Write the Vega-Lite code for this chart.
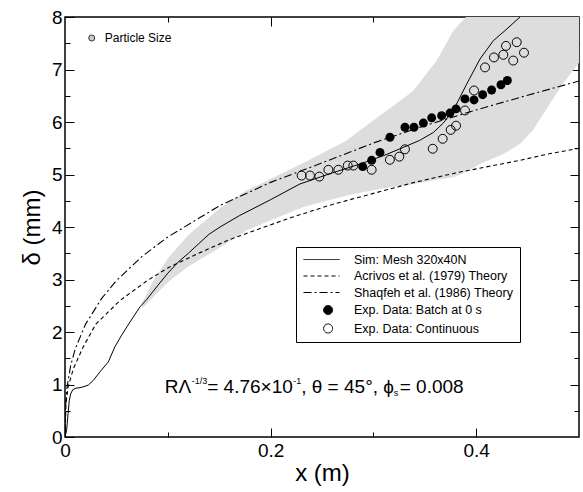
{
 "$schema": "https://vega.github.io/schema/vega-lite/v6.json",
 "width": 514, "height": 420,
 "autosize": {"type": "none"},
 "padding": {"left": 65, "top": 17, "right": 4, "bottom": 55},
 "config": {
  "font": "Liberation Sans",
  "view": {"stroke": "black", "strokeWidth": 1.5},
  "axis": {"domain": false, "grid": false, "tickColor": "black", "tickWidth": 1, "labelColor": "black", "labelFont": "Liberation Sans", "titleFont": "Liberation Sans", "titleColor": "black", "titleFontWeight": "normal", "labelFontSize": 19, "titleFontSize": 24, "labelFlush": false}
 },
 "datasets": {
  "lines": [
   {"series": "Sim: Mesh 320x40N", "x": 0, "y": 0},
   {"series": "Sim: Mesh 320x40N", "x": 0.0016, "y": 0.13},
   {"series": "Sim: Mesh 320x40N", "x": 0.003, "y": 0.45},
   {"series": "Sim: Mesh 320x40N", "x": 0.0042, "y": 0.7},
   {"series": "Sim: Mesh 320x40N", "x": 0.0055, "y": 0.82},
   {"series": "Sim: Mesh 320x40N", "x": 0.0075, "y": 0.9},
   {"series": "Sim: Mesh 320x40N", "x": 0.0105, "y": 0.93},
   {"series": "Sim: Mesh 320x40N", "x": 0.0146, "y": 0.94},
   {"series": "Sim: Mesh 320x40N", "x": 0.0185, "y": 0.96},
   {"series": "Sim: Mesh 320x40N", "x": 0.0227, "y": 0.99},
   {"series": "Sim: Mesh 320x40N", "x": 0.0276, "y": 1.08},
   {"series": "Sim: Mesh 320x40N", "x": 0.034, "y": 1.24},
   {"series": "Sim: Mesh 320x40N", "x": 0.0421, "y": 1.43},
   {"series": "Sim: Mesh 320x40N", "x": 0.0486, "y": 1.72},
   {"series": "Sim: Mesh 320x40N", "x": 0.0551, "y": 1.94},
   {"series": "Sim: Mesh 320x40N", "x": 0.0632, "y": 2.19},
   {"series": "Sim: Mesh 320x40N", "x": 0.073, "y": 2.48},
   {"series": "Sim: Mesh 320x40N", "x": 0.0795, "y": 2.62},
   {"series": "Sim: Mesh 320x40N", "x": 0.09, "y": 2.88},
   {"series": "Sim: Mesh 320x40N", "x": 0.1, "y": 3.12},
   {"series": "Sim: Mesh 320x40N", "x": 0.11, "y": 3.33},
   {"series": "Sim: Mesh 320x40N", "x": 0.12, "y": 3.5},
   {"series": "Sim: Mesh 320x40N", "x": 0.13, "y": 3.68},
   {"series": "Sim: Mesh 320x40N", "x": 0.14, "y": 3.86},
   {"series": "Sim: Mesh 320x40N", "x": 0.1508, "y": 4.0},
   {"series": "Sim: Mesh 320x40N", "x": 0.17, "y": 4.22},
   {"series": "Sim: Mesh 320x40N", "x": 0.2, "y": 4.52},
   {"series": "Sim: Mesh 320x40N", "x": 0.2286, "y": 4.82},
   {"series": "Sim: Mesh 320x40N", "x": 0.26, "y": 5.03},
   {"series": "Sim: Mesh 320x40N", "x": 0.287, "y": 5.2},
   {"series": "Sim: Mesh 320x40N", "x": 0.31, "y": 5.36},
   {"series": "Sim: Mesh 320x40N", "x": 0.3259, "y": 5.49},
   {"series": "Sim: Mesh 320x40N", "x": 0.345, "y": 5.65},
   {"series": "Sim: Mesh 320x40N", "x": 0.3583, "y": 5.8},
   {"series": "Sim: Mesh 320x40N", "x": 0.368, "y": 5.98},
   {"series": "Sim: Mesh 320x40N", "x": 0.3777, "y": 6.22},
   {"series": "Sim: Mesh 320x40N", "x": 0.3907, "y": 6.72},
   {"series": "Sim: Mesh 320x40N", "x": 0.4037, "y": 7.2},
   {"series": "Sim: Mesh 320x40N", "x": 0.4167, "y": 7.55},
   {"series": "Sim: Mesh 320x40N", "x": 0.428, "y": 7.74},
   {"series": "Sim: Mesh 320x40N", "x": 0.4426, "y": 8.0},
   {"series": "Acrivos et al. (1979) Theory", "x": 0, "y": 0},
   {"series": "Acrivos et al. (1979) Theory", "x": 0.001, "y": 0.65},
   {"series": "Acrivos et al. (1979) Theory", "x": 0.003, "y": 0.95},
   {"series": "Acrivos et al. (1979) Theory", "x": 0.0081, "y": 1.3},
   {"series": "Acrivos et al. (1979) Theory", "x": 0.0178, "y": 1.72},
   {"series": "Acrivos et al. (1979) Theory", "x": 0.03, "y": 2.15},
   {"series": "Acrivos et al. (1979) Theory", "x": 0.0535, "y": 2.6},
   {"series": "Acrivos et al. (1979) Theory", "x": 0.08, "y": 2.98},
   {"series": "Acrivos et al. (1979) Theory", "x": 0.1, "y": 3.22},
   {"series": "Acrivos et al. (1979) Theory", "x": 0.13, "y": 3.5},
   {"series": "Acrivos et al. (1979) Theory", "x": 0.16, "y": 3.76},
   {"series": "Acrivos et al. (1979) Theory", "x": 0.1897, "y": 3.97},
   {"series": "Acrivos et al. (1979) Theory", "x": 0.22, "y": 4.18},
   {"series": "Acrivos et al. (1979) Theory", "x": 0.26, "y": 4.43},
   {"series": "Acrivos et al. (1979) Theory", "x": 0.3, "y": 4.64},
   {"series": "Acrivos et al. (1979) Theory", "x": 0.34, "y": 4.85},
   {"series": "Acrivos et al. (1979) Theory", "x": 0.38, "y": 5.03},
   {"series": "Acrivos et al. (1979) Theory", "x": 0.4426, "y": 5.27},
   {"series": "Acrivos et al. (1979) Theory", "x": 0.47, "y": 5.39},
   {"series": "Acrivos et al. (1979) Theory", "x": 0.5, "y": 5.5},
   {"series": "Shaqfeh et al. (1986) Theory", "x": 0, "y": 0},
   {"series": "Shaqfeh et al. (1986) Theory", "x": 0.0005, "y": 0.58},
   {"series": "Shaqfeh et al. (1986) Theory", "x": 0.002, "y": 0.95},
   {"series": "Shaqfeh et al. (1986) Theory", "x": 0.0055, "y": 1.36},
   {"series": "Shaqfeh et al. (1986) Theory", "x": 0.01, "y": 1.68},
   {"series": "Shaqfeh et al. (1986) Theory", "x": 0.02, "y": 2.15},
   {"series": "Shaqfeh et al. (1986) Theory", "x": 0.0357, "y": 2.64},
   {"series": "Shaqfeh et al. (1986) Theory", "x": 0.05, "y": 2.98},
   {"series": "Shaqfeh et al. (1986) Theory", "x": 0.075, "y": 3.44},
   {"series": "Shaqfeh et al. (1986) Theory", "x": 0.1, "y": 3.81},
   {"series": "Shaqfeh et al. (1986) Theory", "x": 0.1508, "y": 4.41},
   {"series": "Shaqfeh et al. (1986) Theory", "x": 0.2, "y": 4.85},
   {"series": "Shaqfeh et al. (1986) Theory", "x": 0.25, "y": 5.22},
   {"series": "Shaqfeh et al. (1986) Theory", "x": 0.3, "y": 5.6},
   {"series": "Shaqfeh et al. (1986) Theory", "x": 0.35, "y": 5.93},
   {"series": "Shaqfeh et al. (1986) Theory", "x": 0.4, "y": 6.23},
   {"series": "Shaqfeh et al. (1986) Theory", "x": 0.45, "y": 6.51},
   {"series": "Shaqfeh et al. (1986) Theory", "x": 0.5, "y": 6.78}
  ],
  "band": [
   {"x": 0.075, "lo": 2.45, "hi": 2.55},
   {"x": 0.085, "lo": 2.65, "hi": 2.95},
   {"x": 0.1, "lo": 2.95, "hi": 3.4},
   {"x": 0.12, "lo": 3.25, "hi": 3.85},
   {"x": 0.15, "lo": 3.6, "hi": 4.35},
   {"x": 0.1767, "lo": 3.94, "hi": 4.7},
   {"x": 0.19, "lo": 4.05, "hi": 4.82},
   {"x": 0.2318, "lo": 4.38, "hi": 5.22},
   {"x": 0.274, "lo": 4.6, "hi": 5.65},
   {"x": 0.2805, "lo": 4.63, "hi": 5.75},
   {"x": 0.313, "lo": 4.75, "hi": 6.22},
   {"x": 0.329, "lo": 4.79, "hi": 6.45},
   {"x": 0.339, "lo": 4.82, "hi": 6.6},
   {"x": 0.3616, "lo": 4.9, "hi": 7.17},
   {"x": 0.3777, "lo": 4.95, "hi": 7.74},
   {"x": 0.39, "lo": 5.05, "hi": 8.0},
   {"x": 0.4037, "lo": 5.2, "hi": 8.0},
   {"x": 0.4264, "lo": 5.39, "hi": 8.0},
   {"x": 0.4426, "lo": 5.58, "hi": 8.0},
   {"x": 0.455, "lo": 5.84, "hi": 8.0},
   {"x": 0.47, "lo": 6.3, "hi": 8.0},
   {"x": 0.485, "lo": 6.75, "hi": 8.0},
   {"x": 0.5, "lo": 7.13, "hi": 8.0}
  ],
  "batch": [
   {"x": 0.2896, "y": 5.15}, {"x": 0.2983, "y": 5.27}, {"x": 0.3064, "y": 5.42},
   {"x": 0.3161, "y": 5.71}, {"x": 0.3307, "y": 5.9}, {"x": 0.3395, "y": 5.9},
   {"x": 0.3486, "y": 5.98}, {"x": 0.3567, "y": 6.08}, {"x": 0.3664, "y": 6.12},
   {"x": 0.3745, "y": 6.17}, {"x": 0.3804, "y": 6.25}, {"x": 0.3891, "y": 6.44},
   {"x": 0.3979, "y": 6.42}, {"x": 0.4063, "y": 6.52}, {"x": 0.415, "y": 6.61},
   {"x": 0.4241, "y": 6.71}, {"x": 0.4303, "y": 6.79}
  ],
  "cont": [
   {"x": 0.2302, "y": 4.98}, {"x": 0.2383, "y": 4.98}, {"x": 0.2474, "y": 4.96},
   {"x": 0.2562, "y": 5.09}, {"x": 0.2659, "y": 5.09}, {"x": 0.275, "y": 5.17},
   {"x": 0.2805, "y": 5.17}, {"x": 0.2983, "y": 5.09}, {"x": 0.316, "y": 5.28},
   {"x": 0.3252, "y": 5.34}, {"x": 0.3307, "y": 5.48}, {"x": 0.3577, "y": 5.49},
   {"x": 0.3674, "y": 5.68}, {"x": 0.3752, "y": 5.85}, {"x": 0.3804, "y": 5.93},
   {"x": 0.3891, "y": 6.22}, {"x": 0.3979, "y": 6.6}, {"x": 0.4086, "y": 7.04},
   {"x": 0.4173, "y": 7.23}, {"x": 0.4264, "y": 7.28}, {"x": 0.429, "y": 7.45},
   {"x": 0.4394, "y": 7.52}, {"x": 0.436, "y": 7.17}, {"x": 0.4465, "y": 7.32}
  ],
  "note": [{"x": 0.097, "y": 0.84}],
  "particle": [{"x": 0.026, "y": 7.6, "label": "Particle Size"}]
 },
 "layer": [
  {
   "data": {"name": "band"},
   "mark": {"type": "area", "color": "#dddddd", "opacity": 1},
   "encoding": {
    "x": {"field": "x", "type": "quantitative", "scale": {"domain": [0, 0.5], "nice": false, "zero": false},
          "axis": {"orient": "bottom", "values": [0, 0.2, 0.4], "format": "~g", "tickSize": -9, "labelPadding": 13, "title": "x (m)", "titlePadding": 1}},
    "y": {"field": "lo", "type": "quantitative", "scale": {"domain": [0, 8], "nice": false, "zero": false},
          "axis": {"orient": "left", "values": [0, 1, 2, 3, 4, 5, 6, 7, 8], "format": "~g", "tickSize": -9, "labelPadding": 12, "title": "δ (mm)", "titlePadding": 7}},
    "y2": {"field": "hi"}
   }
  },
  {
   "data": {"name": "lines"},
   "transform": [{"filter": "datum.series === 'Sim: Mesh 320x40N'"}],
   "mark": {"type": "line", "strokeWidth": 1, "clip": true},
   "encoding": {
    "x": {"field": "x", "type": "quantitative", "axis": {"orient": "bottom", "values": [0.1, 0.3], "tickSize": -5, "labels": false, "title": null}},
    "y": {"field": "y", "type": "quantitative", "axis": {"orient": "left", "values": [0.5, 1.5, 2.5, 3.5, 4.5, 5.5, 6.5, 7.5], "tickSize": -5, "labels": false, "title": null}},
    "color": {"field": "series", "type": "nominal",
      "scale": {"domain": ["Sim: Mesh 320x40N", "Acrivos et al. (1979) Theory", "Shaqfeh et al. (1986) Theory", "Exp. Data: Batch at 0 s", "Exp. Data: Continuous"], "range": ["black", "black", "black", "black", "black"]},
      "legend": {"orient": "none", "legendX": 231, "legendY": 230, "title": null, "padding": 6, "strokeColor": "black", "fillColor": "white", "cornerRadius": 0,
        "symbolSize": 144, "symbolOffset": 13, "labelOffset": 26, "rowPadding": 3.5, "labelFontSize": 12.5, "labelFont": "Liberation Sans", "labelColor": "black", "symbolStrokeWidth": 1,
        "encode": {"symbols": {"update": {
          "shape": {"signal": "(datum.value === 'Exp. Data: Batch at 0 s' || datum.value === 'Exp. Data: Continuous') ? 'M0.35,0a0.75,0.75 0 1,0 1.5,0a0.75,0.75 0 1,0 -1.5,0' : 'M-3,0H3'"},
          "strokeDash": {"signal": "datum.value === 'Acrivos et al. (1979) Theory' ? [4,3] : (datum.value === 'Shaqfeh et al. (1986) Theory' ? [8,3,2,3] : [1,0])"},
          "fill": {"signal": "datum.value === 'Exp. Data: Batch at 0 s' ? '#000000' : '#ffffff'"},
          "fillOpacity": {"signal": "datum.value === 'Exp. Data: Batch at 0 s' ? 1 : 0"},
          "stroke": {"value": "black"},
          "strokeWidth": {"value": 1},
          "strokeOpacity": {"value": 1}
        }}}}
    }
   }
  },
  {
   "data": {"name": "lines"},
   "transform": [{"filter": "datum.series === 'Acrivos et al. (1979) Theory'"}],
   "mark": {"type": "line", "strokeWidth": 1.1, "strokeDash": [4, 3], "clip": true},
   "encoding": {
    "x": {"field": "x", "type": "quantitative", "axis": {"orient": "top", "values": [0.2, 0.4], "tickSize": -9, "labels": false, "title": null}},
    "y": {"field": "y", "type": "quantitative", "axis": {"orient": "right", "values": [1, 2, 3, 4, 5, 6, 7], "tickSize": -9, "labels": false, "title": null}},
    "color": {"field": "series", "type": "nominal"}
   }
  },
  {
   "data": {"name": "lines"},
   "transform": [{"filter": "datum.series === 'Shaqfeh et al. (1986) Theory'"}],
   "mark": {"type": "line", "strokeWidth": 1.1, "strokeDash": [8, 3, 2, 3], "clip": true},
   "encoding": {
    "x": {"field": "x", "type": "quantitative", "axis": {"orient": "top", "values": [0.1, 0.3], "tickSize": -5, "labels": false, "title": null}},
    "y": {"field": "y", "type": "quantitative", "axis": {"orient": "right", "values": [0.5, 1.5, 2.5, 3.5, 4.5, 5.5, 6.5, 7.5], "tickSize": -5, "labels": false, "title": null}},
    "color": {"field": "series", "type": "nominal"}
   }
  },
  {
   "data": {"name": "cont"},
   "mark": {"type": "point", "shape": "circle", "size": 80, "strokeWidth": 1, "filled": false, "opacity": 1},
   "encoding": {
    "x": {"field": "x", "type": "quantitative", "axis": null},
    "y": {"field": "y", "type": "quantitative", "axis": null},
    "color": {"datum": "Exp. Data: Continuous"}
   }
  },
  {
   "data": {"name": "batch"},
   "mark": {"type": "circle", "size": 80, "opacity": 1},
   "encoding": {
    "x": {"field": "x", "type": "quantitative", "axis": null},
    "y": {"field": "y", "type": "quantitative", "axis": null},
    "color": {"datum": "Exp. Data: Batch at 0 s"}
   }
  },
  {
   "data": {"name": "particle"},
   "mark": {"type": "point", "shape": "circle", "size": 36, "filled": true, "fill": "#cccccc", "stroke": "#333333", "strokeWidth": 1, "opacity": 1},
   "encoding": {
    "x": {"field": "x", "type": "quantitative", "axis": null},
    "y": {"field": "y", "type": "quantitative", "axis": null}
   }
  },
  {
   "data": {"name": "particle"},
   "mark": {"type": "text", "align": "left", "baseline": "middle", "fontSize": 12, "dx": 13, "color": "black", "font": "Liberation Sans"},
   "encoding": {
    "x": {"field": "x", "type": "quantitative", "axis": null},
    "y": {"field": "y", "type": "quantitative", "axis": null},
    "text": {"field": "label"}
   }
  },
  {
   "data": {"name": "note"},
   "layer": [
    {"mark": {"type": "text", "text": "RΛ", "align": "left", "baseline": "alphabetic", "fontSize": 19, "dx": 0, "color": "black"}},
    {"mark": {"type": "text", "text": "-1/3", "align": "left", "baseline": "alphabetic", "fontSize": 9, "dx": 27, "dy": -9, "color": "black"}},
    {"mark": {"type": "text", "text": "= 4.76×10", "align": "left", "baseline": "alphabetic", "fontSize": 19, "dx": 42.5, "color": "black"}},
    {"mark": {"type": "text", "text": "-1", "align": "left", "baseline": "alphabetic", "fontSize": 9, "dx": 128.5, "dy": -9, "color": "black"}},
    {"mark": {"type": "text", "text": ", θ = 45°,  ϕ", "align": "left", "baseline": "alphabetic", "fontSize": 19, "dx": 136.5, "color": "black"}},
    {"mark": {"type": "text", "text": "s", "align": "left", "baseline": "alphabetic", "fontSize": 9, "dx": 229, "dy": 3, "color": "black"}},
    {"mark": {"type": "text", "text": "= 0.008", "align": "left", "baseline": "alphabetic", "fontSize": 19, "dx": 235, "color": "black"}}
   ],
   "encoding": {
    "x": {"field": "x", "type": "quantitative", "axis": null},
    "y": {"field": "y", "type": "quantitative", "axis": null}
   }
  }
 ],
 "resolve": {"axis": {"x": "independent", "y": "independent"}}
}
